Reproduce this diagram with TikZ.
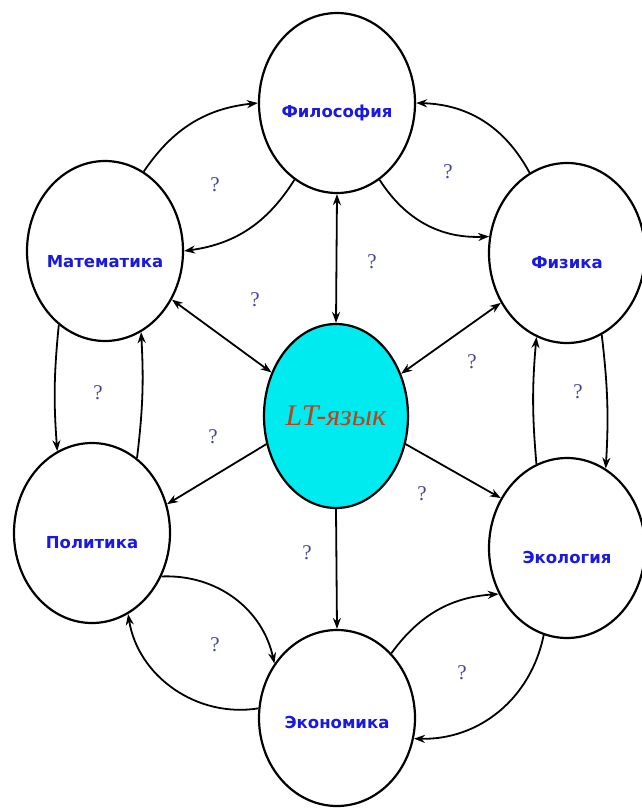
\documentclass[tikz,border=0pt]{standalone}
\usepackage{fontspec}
\setmainfont{Liberation Serif}
\newfontfamily\labfont{DejaVu Sans}
\usetikzlibrary{arrows.meta,shapes.geometric}
\definecolor{labblue}{RGB}{25,25,225}
\definecolor{qcol}{RGB}{70,70,150}
\definecolor{ltfill}{RGB}{0,235,240}
\definecolor{ltred}{RGB}{190,65,25}
\begin{document}
\begin{tikzpicture}[x=1pt,y=-1pt,
  disc/.style={ellipse, draw=black, line width=2.2pt, fill=white,
    minimum width=156pt, minimum height=180pt, inner sep=0pt},
  lbl/.style={font=\labfont\bfseries\fontsize{16.5}{18}\selectfont, text=labblue},
  tip/.tip={Stealth[length=11pt,width=8pt]},
  conn/.style={line width=1.8pt, -tip},
  both/.style={line width=1.8pt, tip-tip},
  q/.style={font=\fontsize{21}{23}\selectfont, text=qcol}
]
\useasboundingbox (0,0) rectangle (642,811);
\fill[white] (0,0) rectangle (642,811);

\node[disc, label={[lbl,yshift=-10pt]center:Философия}] (phil) at (337,103) {};
\node[disc, label={[lbl,yshift=-11pt]center:Математика}] (mat) at (105,251) {};
\node[disc, label={[lbl,yshift=-10pt]center:Физика}] (phys) at (567,253) {};
\node[disc, label={[lbl,yshift=-10pt]center:Политика}] (pol) at (92,533) {};
\node[disc, label={[lbl,yshift=-9pt]center:Экология}] (eco) at (567,548) {};
\node[disc, minimum height=176pt, label={[lbl,yshift=-4pt]center:Экономика}] (econ) at (337,718) {};
\node[ellipse, draw=black, line width=2.2pt, fill=ltfill, minimum width=144pt,
  minimum height=184pt, inner sep=0pt,
  font=\itshape\fontsize{30}{32}\selectfont, text=ltred] (lt) at (336,416) {LT-язык};

% spokes
\draw[both] (phil.south) -- (lt.north);
\draw[both] (mat.-36) -- (lt.146);
\draw[both] (phys.217) -- (lt.33);
\draw[conn] (lt.202) -- (pol.21);
\draw[conn] (lt.338) -- (eco.143);
\draw[conn] (lt.south) -- (econ.north);

% Математика - Философия
\draw[conn] (mat.64) to[bend left=25] (phil.180);
\draw[conn] (phil.241) to[bend left=25] (mat.0);
% Философия - Физика
\draw[conn] (phys.115) to[bend right=30] (phil.0);
\draw[conn] (phil.299) to[bend right=30] (phys.168);
% Математика - Политика
\draw[conn] (mat.238) to[bend right=5] (pol.113);
\draw[conn] (pol.59) to[bend right=5] (mat.294);
% Физика - Экология
\draw[conn] (eco.110) to[bend left=5] (phys.250);
\draw[conn] (phys.293) to[bend left=5] (eco.64);
% Политика - Экономика
\draw[conn] (pol.-32) to[bend left=40] (econ.139);
\draw[conn] (econ.173) to[bend left=45] (pol.294);
% Экономика - Экология
\draw[conn] (econ.50) to[bend left=25] (eco.214);
\draw[conn] (eco.255) to[bend left=40] (econ.345);

% question marks
\node[q] (q1) at (215,185) {?};
\node[q] (q2) at (448,172) {?};
\node[q] (q3) at (372,262) {?};
\node[q] (q4) at (255,300) {?};
\node[q] (q5) at (472,362) {?};
\node[q] (q6) at (98,393) {?};
\node[q] (q7) at (578,392) {?};
\node[q] (q8) at (213,437) {?};
\node[q] (q9) at (422,494) {?};
\node[q] (q10) at (307,553) {?};
\node[q] (q11) at (215,645) {?};
\node[q] (q12) at (462,673) {?};
\end{tikzpicture}
\end{document}
